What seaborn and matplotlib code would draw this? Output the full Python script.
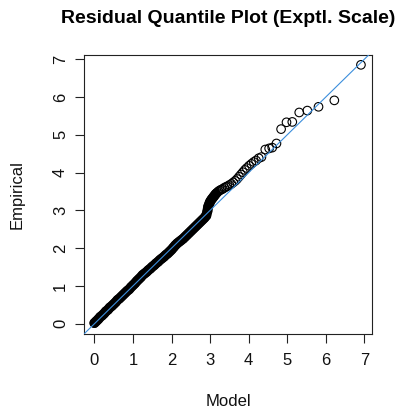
import matplotlib
matplotlib.use("Agg")
import matplotlib.pyplot as plt
import seaborn as sns
import pandas as pd

# Exponential-scale residual quantiles: theoretical (model) vs observed (empirical)
core_model = [0.00, 0.05, 0.10, 0.15, 0.20, 0.25, 0.30, 0.35, 0.40, 0.45,
              0.50, 0.55, 0.60, 0.65, 0.70, 0.75, 0.80, 0.85, 0.90, 0.95,
              1.00, 1.05, 1.10, 1.15, 1.20, 1.25, 1.30, 1.35, 1.40, 1.45,
              1.50, 1.55, 1.60, 1.65, 1.70, 1.75, 1.80, 1.85, 1.90, 1.95,
              2.00, 2.05, 2.10, 2.15, 2.20, 2.25, 2.30, 2.35, 2.40, 2.45,
              2.50, 2.55, 2.60, 2.65, 2.70, 2.75, 2.80, 2.85, 2.90, 2.93,
              2.95, 2.98, 3.00, 3.03, 3.06, 3.09, 3.12, 3.15]
core_empirical = [0.02, 0.07, 0.12, 0.18, 0.22, 0.27, 0.33, 0.37, 0.43, 0.47,
                  0.52, 0.57, 0.63, 0.67, 0.72, 0.77, 0.82, 0.87, 0.91, 0.97,
                  1.02, 1.07, 1.13, 1.18, 1.23, 1.29, 1.33, 1.37, 1.42, 1.46,
                  1.51, 1.55, 1.60, 1.64, 1.69, 1.73, 1.77, 1.82, 1.86, 1.91,
                  1.96, 2.02, 2.08, 2.13, 2.17, 2.21, 2.25, 2.30, 2.35, 2.40,
                  2.45, 2.50, 2.55, 2.60, 2.65, 2.70, 2.75, 2.80, 2.86, 2.98,
                  3.10, 3.18, 3.23, 3.28, 3.32, 3.36, 3.40, 3.44]

upper_model = [3.18, 3.21, 3.25, 3.29, 3.33, 3.37, 3.41, 3.45, 3.50, 3.55,
               3.60, 3.65, 3.70, 3.75, 3.80, 3.85, 3.90, 3.95, 4.01, 4.07,
               4.13, 4.19]
upper_empirical = [3.47, 3.50, 3.53, 3.55, 3.57, 3.60, 3.62, 3.64, 3.67, 3.70,
                   3.74, 3.78, 3.83, 3.89, 3.95, 4.01, 4.07, 4.12, 4.18, 4.23,
                   4.28, 4.32]

tail_model = [4.26, 4.33, 4.43, 4.53, 4.61, 4.72, 4.84, 4.98, 5.13, 5.31,
              5.52, 5.81, 6.22, 6.91]
tail_empirical = [4.38, 4.41, 4.61, 4.64, 4.66, 4.77, 5.15, 5.33, 5.34, 5.59,
                  5.64, 5.74, 5.91, 6.85]

tick_values = [0, 1, 2, 3, 4, 5, 6, 7]

core = pd.DataFrame({"Model": core_model, "Empirical": core_empirical})
points = pd.DataFrame({
    "Model": core_model + upper_model + tail_model,
    "Empirical": core_empirical + upper_empirical + tail_empirical,
})

sns.set_style("white")
plt.rcParams["font.family"] = ["Liberation Sans", "DejaVu Sans"]

fig = plt.figure(figsize=(3.98, 4.09), dpi=100)
ax = fig.add_axes([0.211, 0.1834, 0.724, 0.6821])

# dense body of overlapping circles
sns.lineplot(data=core, x="Model", y="Empirical", ax=ax, color="black",
             linewidth=7.2, solid_capstyle="round", sort=False, zorder=2)
sns.scatterplot(data=points, x="Model", y="Empirical", ax=ax, marker="o",
                s=38, facecolor="none", edgecolor="black", linewidth=0.8,
                zorder=3)

# reference line y = x
ax.axline((0, 0), slope=1, color="#3B8EDC", linewidth=0.8, zorder=4)

ax.set_xlim(-0.27, 7.2)
ax.set_ylim(-0.27, 7.11)
ax.set_xticks(tick_values)
ax.set_yticks(tick_values)
ax.set_xticklabels([str(v) for v in tick_values])
ax.set_yticklabels([str(v) for v in tick_values], rotation=90, va="center")

for side in ["left", "right", "top", "bottom"]:
    ax.spines[side].set_visible(True)
    ax.spines[side].set_color("#222222")
    ax.spines[side].set_linewidth(0.8)

ax.tick_params(axis="both", which="both", direction="out", length=6.5,
               width=0.8, color="#222222", labelsize=12, labelcolor="#111111",
               bottom=True, left=True)
ax.tick_params(axis="x", pad=7)
ax.tick_params(axis="y", pad=5)

ax.set_xlabel("Model", fontsize=12, color="#111111")
ax.set_ylabel("Empirical", fontsize=12, color="#111111")
ax.xaxis.set_label_coords(0.5, -0.243)
ax.xaxis.label.set_va("center")
ax.yaxis.set_label_coords(-0.233, 0.5)
ax.yaxis.label.set_va("center")

ax.set_title("Residual Quantile Plot (Exptl. Scale)", fontsize=14,
             fontweight="bold", color="black", y=1.13, va="center", pad=0)

fig.savefig("out.png", dpi=100)
